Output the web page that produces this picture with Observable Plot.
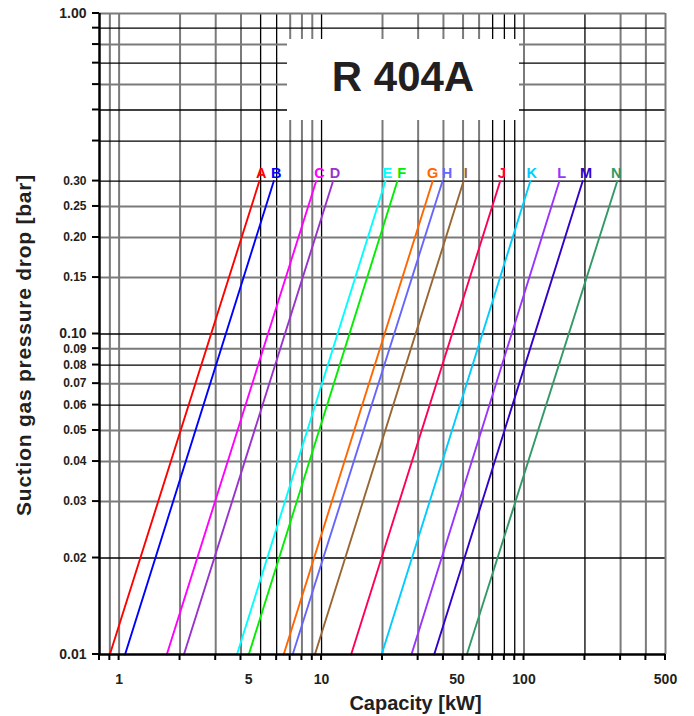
<!DOCTYPE html>
<html>
<head>
<meta charset="utf-8">
<script src="https://cdn.jsdelivr.net/npm/d3@7"></script>
<script src="https://cdn.jsdelivr.net/npm/@observablehq/plot@0.6"></script>
<style>
  html, body { margin: 0; padding: 0; background: #fff; }
  #wrap { position: relative; width: 694px; height: 716px; }
  #wrap svg text { font-weight: bold; }
  #titlebox {
    position: absolute; left: 287px; top: 39px; width: 232px; height: 81px;
    background: #fff; display: flex; align-items: center; justify-content: center;
    font-family: "Liberation Sans", Arial, sans-serif; font-weight: bold;
    font-size: 42px; color: #231f20; padding-bottom: 5px; box-sizing: border-box;
  }
</style>
</head>
<body>
<div id="wrap"><div id="titlebox">R 404A</div></div>
<script>
// ---- data ----
const curveNames = ["A","B","C","D","E","F","G","H","I","J","K","L","M","N"];
// capacity [kW] at 0.01 bar and at 0.30 bar pressure drop
const capAtLow  = [0.90, 1.07, 1.72, 2.09, 3.82, 4.37, 6.5, 7.2, 9.27, 14.0, 19.8, 27.8, 36.0, 52.2];
const capAtHigh = [4.93, 5.81, 9.41, 11.4, 20.7, 23.7, 35.4, 39.6, 50.3, 76.3, 107.5, 149.6, 195, 289];
// capacity [kW] at which each letter label sits (above the 0.30 bar line)
const labelCap  = [5.03, 5.97, 9.78, 11.64, 21.1, 24.9, 35.4, 41.6, 51.6, 77.6, 109.2, 153.7, 202.6, 285.3];
const pressureRange = [0.01, 0.30];
const curveColors = ["#ff0000","#0000ff","#ff00ff","#9933cc","#00ffff","#00ee00","#ff6600","#6666ff","#996633","#ff0055","#00ccff","#9933ff","#3300cc","#339966"];

const xGridGray  = [0.9,1,2,3,4,7,8,9,20,30,40,50,60,100,300,400];
const xGridBlack = [5,6,10,70,80,90,200];
const yGridGray  = [0.03,0.04,0.05,0.07,0.09,0.15,0.2,0.25,0.6,0.8];
const yGridBlack = [0.02,0.06,0.08,0.1,0.3,0.4,0.5,0.7,0.9];
const xTickMarks = [0.8,0.9,1,2,3,4,5,6,7,8,9,10,20,30,40,50,60,70,80,90,100,200,300,400,500];
const yTickMarks = [0.01,0.02,0.03,0.04,0.05,0.06,0.07,0.08,0.09,0.1,0.15,0.2,0.25,0.3,0.4,0.5,0.6,0.7,0.8,0.9,1];
const xLabels = [1,10,100,500];
const xLabelsShiftedA = [5];
const xLabelsShiftedB = [50];
const yLabelsSmall = [0.02,0.03,0.04,0.05,0.06,0.07,0.08,0.09,0.15,0.2,0.25,0.3];
const yLabelsBig = [0.01,0.1,1];
const xTitle = "Capacity [kW]";
const yTitle = "Suction gas pressure drop [bar]";

const curves = curveNames.flatMap((n, i) => [
  {name: n, cap: capAtLow[i], dp: pressureRange[0]},
  {name: n, cap: capAtHigh[i], dp: pressureRange[1]}
]);
const tops = curveNames.map((n, i) => ({name: n, cap: labelCap[i], dp: pressureRange[1]}));

const GRAY = "#7a7a7a";
const INK = "#231f20";
const B = "bold";
const fmt2 = d3.format(".2f");
const xLab = (data, dx) => Plot.text(data, {x: d => d, text: d => String(d), frameAnchor: "bottom", lineAnchor: "top", dy: 20, dx, fontSize: 14, fontWeight: B, fill: INK});
const yLab = (data, size) => Plot.text(data, {y: d => d, text: d => fmt2(d), frameAnchor: "left", textAnchor: "end", dx: -13, fontSize: size, fontWeight: B, fill: INK});
const chart = Plot.plot({
  width: 694, height: 716,
  marginLeft: 99, marginRight: 29, marginTop: 13, marginBottom: 62,
  x: {type: "log", domain: [0.8, 500], axis: null},
  y: {type: "log", domain: [0.01, 1], axis: null},
  color: {domain: curveNames, range: curveColors},
  style: {fontFamily: "'Liberation Sans', Arial, sans-serif", background: "white", color: INK},
  marks: [
    Plot.ruleX(xGridGray, {stroke: GRAY, strokeWidth: 2}),
    Plot.ruleX(xGridBlack, {stroke: "#000", strokeWidth: 1.3}),
    Plot.ruleY(yGridGray, {stroke: GRAY, strokeWidth: 2}),
    Plot.ruleY(yGridBlack, {stroke: "#000", strokeWidth: 1.3}),
    Plot.ruleY([1], {stroke: GRAY, strokeWidth: 2}),
    Plot.ruleX([500], {stroke: GRAY, strokeWidth: 2}),
    Plot.line(curves, {x: "cap", y: "dp", z: "name", stroke: "name", strokeWidth: 1.9}),
    Plot.text(tops, {x: "cap", y: "dp", text: "name", fill: "name", dy: -3, lineAnchor: "bottom", fontSize: 14.5, fontWeight: B}),
    Plot.ruleX([0.8], {stroke: "#000", strokeWidth: 2.5}),
    Plot.ruleY([0.01], {stroke: "#000", strokeWidth: 2.5}),
    xLab(xLabels, 0),
    xLab(xLabelsShiftedA, -12),
    xLab(xLabelsShiftedB, -6),
    yLab(yLabelsSmall, 12),
    yLab(yLabelsBig, 14),
    Plot.text([xTitle], {frameAnchor: "bottom", text: d => d, dx: 33, dy: 55, lineAnchor: "bottom", fontSize: 20, fontWeight: B, fill: INK}),
    Plot.text([yTitle], {frameAnchor: "left", textAnchor: "middle", text: d => d, rotate: -90, dx: -75, dy: 11, fontSize: 21, fontWeight: B, fill: INK})
  ]
});
document.getElementById("wrap").prepend(chart);
// short tick marks outside the frame (bottom and left), positioned with Plot's scales
const sx = chart.scale("x"), sy = chart.scale("y");
const svg = d3.select(chart);
const g = svg.append("g").attr("stroke", "#000").attr("stroke-width", 2);
const yBottom = sy.apply(0.01), xLeft = sx.apply(0.8);
g.selectAll(".xt").data(xTickMarks).join("line")
  .attr("x1", d => sx.apply(d)).attr("x2", d => sx.apply(d)).attr("y1", yBottom).attr("y2", yBottom + 6);
g.selectAll(".yt").data(yTickMarks).join("line")
  .attr("y1", d => sy.apply(d)).attr("y2", d => sy.apply(d)).attr("x1", xLeft).attr("x2", xLeft - 7);
svg.selectAll("text").filter(function() { return this.textContent === yTitle; }).style("letter-spacing", "0.75px");
</script>
</body>
</html>
